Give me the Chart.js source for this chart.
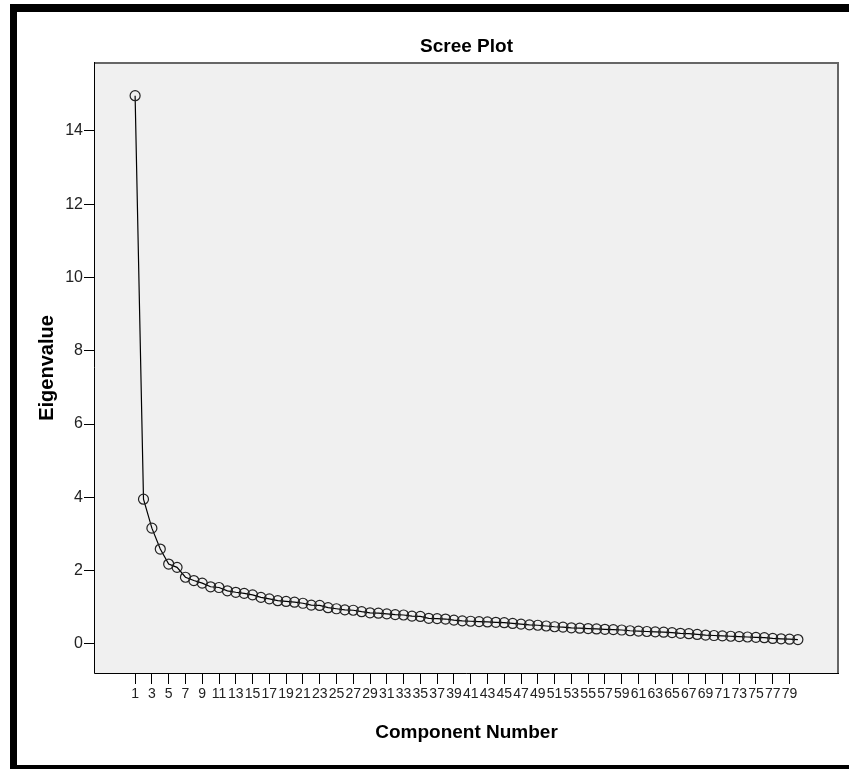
<!DOCTYPE html>
<html>
<head>
<meta charset="utf-8">
<script src="https://cdn.jsdelivr.net/npm/chart.js@4"></script>
<style>
  body { margin: 0; background: #fff; }
  canvas { display: block; }
</style>
</head>
<body>
<canvas id="scree" width="849" height="769"></canvas>
<script>
const componentes = [1,2,3,4,5,6,7,8,9,10,11,12,13,14,15,16,17,18,19,20,
  21,22,23,24,25,26,27,28,29,30,31,32,33,34,35,36,37,38,39,40,
  41,42,43,44,45,46,47,48,49,50,51,52,53,54,55,56,57,58,59,60,
  61,62,63,64,65,66,67,68,69,70,71,72,73,74,75,76,77,78,79,80];

const autovalores = [14.96, 3.95, 3.16, 2.59, 2.18, 2.09, 1.82, 1.73, 1.66, 1.56,
  1.54, 1.45, 1.41, 1.38, 1.34, 1.27, 1.23, 1.18, 1.16, 1.14,
  1.11, 1.06, 1.05, 0.99, 0.96, 0.93, 0.92, 0.88, 0.85, 0.84,
  0.82, 0.80, 0.79, 0.76, 0.75, 0.70, 0.69, 0.68, 0.65, 0.63,
  0.62, 0.61, 0.60, 0.59, 0.58, 0.56, 0.54, 0.52, 0.51, 0.49,
  0.47, 0.46, 0.44, 0.43, 0.42, 0.41, 0.40, 0.39, 0.38, 0.36,
  0.35, 0.34, 0.33, 0.32, 0.31, 0.29, 0.28, 0.26, 0.24, 0.23,
  0.22, 0.21, 0.20, 0.19, 0.18, 0.17, 0.15, 0.14, 0.13, 0.12];

const ticksX = [1,3,5,7,9,11,13,15,17,19,21,23,25,27,29,31,33,35,37,39,
  41,43,45,47,49,51,53,55,57,59,61,63,65,67,69,71,73,75,77,79];
const ticksY = [0, 2, 4, 6, 8, 10, 12, 14];

const fonte = "'Liberation Sans', Arial, sans-serif";

// moldura preta + fundo cinza da area do grafico
const moldura = {
  id: 'moldura',
  beforeDraw(chart) {
    const c = chart.ctx;
    const a = chart.chartArea;
    c.save();
    c.fillStyle = '#fff';
    c.fillRect(0, 0, chart.width, chart.height);
    c.fillStyle = '#000';
    c.fillRect(10, 4, 839, 8);
    c.fillRect(10, 4, 7, 765);
    c.fillRect(10, 765, 839, 4);
    c.fillStyle = '#f0f0f0';
    c.fillRect(a.left, a.top, a.right - a.left, a.bottom - a.top);
    c.restore();
  },
  afterDatasetsDraw(chart) {
    const c = chart.ctx;
    const a = chart.chartArea;
    c.save();
    c.strokeStyle = '#666';
    c.lineWidth = 2;
    c.beginPath();
    c.moveTo(a.left, a.top + 1);
    c.lineTo(a.right - 1, a.top + 1);
    c.lineTo(a.right - 1, a.bottom);
    c.stroke();
    c.strokeStyle = '#000';
    c.lineWidth = 1;
    c.beginPath();
    c.moveTo(a.left + 0.5, a.top);
    c.lineTo(a.left + 0.5, a.bottom - 0.5);
    c.lineTo(a.right, a.bottom - 0.5);
    c.stroke();
    c.restore();
  }
};

new Chart(document.getElementById('scree'), {
  type: 'line',
  data: {
    datasets: [{
      data: componentes.map((x, i) => ({ x: x, y: autovalores[i] })),
      borderColor: '#000',
      borderWidth: 1.2,
      pointRadius: 5,
      pointBorderWidth: 1.2,
      pointBorderColor: '#222',
      pointBackgroundColor: 'rgba(0,0,0,0)',
      tension: 0
    }]
  },
  options: {
    responsive: false,
    animation: false,
    devicePixelRatio: 1,
    layout: { padding: { left: 0, right: 10, top: 0, bottom: 0 } },
    plugins: {
      legend: { display: false },
      tooltip: { enabled: false },
      title: {
        display: true,
        fullSize: false,
        text: 'Scree Plot',
        color: '#000',
        font: { family: fonte, size: 19, weight: 'bold', lineHeight: 1.2 },
        padding: { top: 35.6, bottom: 3.6 }
      }
    },
    scales: {
      x: {
        type: 'linear',
        min: -3.9,
        max: 84.9,
        afterBuildTicks: s => { s.ticks = ticksX.map(v => ({ value: v })); },
        afterFit: s => { s.height = 95; },
        grid: { drawOnChartArea: false, drawTicks: true, tickLength: 10, color: '#000' },
        border: { display: false },
        ticks: {
          autoSkip: false, maxRotation: 0, minRotation: 0, padding: 2,
          color: '#222', font: { family: fonte, size: 14 }
        },
        title: {
          display: true, text: 'Component Number', color: '#000',
          font: { family: fonte, size: 19, weight: 'bold', lineHeight: 1.2 },
          padding: { top: 0, bottom: 25 }
        }
      },
      y: {
        type: 'linear',
        min: -0.82,
        max: 15.88,
        afterBuildTicks: s => { s.ticks = ticksY.map(v => ({ value: v })); },
        afterFit: s => { s.width = 94; },
        grid: { drawOnChartArea: false, drawTicks: true, tickLength: 10, color: '#000' },
        border: { display: false },
        ticks: { padding: 1, color: '#222', font: { family: fonte, size: 16 } },
        title: {
          display: true, text: 'Eigenvalue', color: '#000',
          font: { family: fonte, size: 20, weight: 'bold', lineHeight: 1.2 },
          padding: { top: 35, bottom: 0 }
        }
      }
    }
  },
  plugins: [moldura]
});
</script>
</body>
</html>
